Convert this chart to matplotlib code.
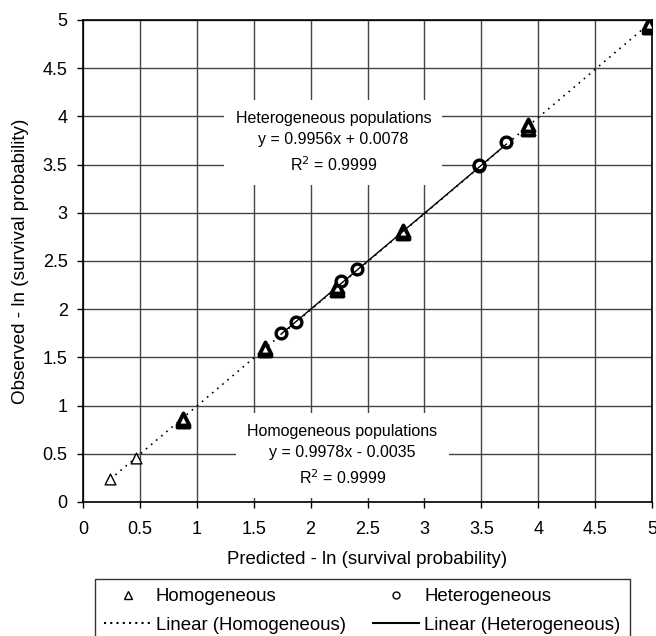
import matplotlib.pyplot as plt
from matplotlib.lines import Line2D
import numpy as np

plt.rcParams['font.family'] = ['Liberation Sans', 'DejaVu Sans']

# homogeneous populations (predicted vs observed)
homo_x = [0.24, 0.47, 0.88, 0.88, 1.60, 1.60, 2.23, 2.23, 2.81, 2.81, 3.91, 3.91, 4.97, 4.97]
homo_y = [0.24, 0.46, 0.84, 0.86, 1.58, 1.60, 2.20, 2.23, 2.79, 2.81, 3.87, 3.91, 4.93, 4.96]
homo_fit = (0.9978, -0.0035)

# heterogeneous populations
het_x = [1.74, 1.87, 2.27, 2.41, 3.48, 3.48, 3.72]
het_y = [1.75, 1.87, 2.29, 2.42, 3.48, 3.50, 3.73]
het_fit = (0.9956, 0.0078)

ticks = [0, 0.5, 1, 1.5, 2, 2.5, 3, 3.5, 4, 4.5, 5]
tick_labels = ['0', '0.5', '1', '1.5', '2', '2.5', '3', '3.5', '4', '4.5', '5']

fig = plt.figure(figsize=(6.56, 6.36), dpi=100)
ax = fig.add_axes([0.1265, 0.2107, 0.8675, 0.758])

ax.set_xlim(0, 5)
ax.set_ylim(0, 5)
ax.set_xticks(ticks)
ax.set_yticks(ticks)
ax.set_xticklabels(tick_labels)
ax.set_yticklabels(tick_labels)
ax.grid(True, color='#444444', linewidth=1.0, zorder=0)
ax.set_axisbelow(True)
for s in ax.spines.values():
    s.set_color('black')
    s.set_linewidth(1.2)
ax.tick_params(direction='out', length=4, width=1, labelsize=13, colors='black')
ax.tick_params(axis='x', pad=10)
ax.tick_params(axis='y', pad=7)

# trend lines
hx = np.array([min(homo_x), max(homo_x)])
ax.plot(hx, homo_fit[0] * hx + homo_fit[1], color='black', linestyle=(0, (1, 3)), linewidth=1.2, zorder=2)
ex = np.array([min(het_x), max(het_x)])
ax.plot(ex, het_fit[0] * ex + het_fit[1], color='black', linestyle='-', linewidth=1.0, zorder=5)

# open triangles for the low points, heavy ones where points overlap
ax.scatter(homo_x[:2], homo_y[:2], marker='^', s=60, facecolors='white', edgecolors='black', linewidths=1.0, zorder=3)
ax.scatter(homo_x[2:], homo_y[2:], marker='^', s=75, facecolors='white', edgecolors='black', linewidths=2.8, zorder=3)
ax.scatter(het_x, het_y, marker='o', s=60, facecolors='white', edgecolors='black', linewidths=2.4, zorder=4)

box = dict(boxstyle='square,pad=0.7', facecolor='white', edgecolor='none')
ax.text(2.2, 3.73, 'Heterogeneous populations\ny = 0.9956x + 0.0078\nR$^2$ = 0.9999',
        ha='center', va='center', fontsize=11.5, linespacing=1.5, bbox=box, zorder=6)
ax.text(2.28, 0.48, 'Homogeneous populations\ny = 0.9978x - 0.0035\nR$^2$ = 0.9999',
        ha='center', va='center', fontsize=11.5, linespacing=1.5, bbox=box, zorder=6)

ax.set_xlabel('Predicted - ln (survival probability)', fontsize=13.4, labelpad=9)
ax.set_ylabel('Observed - ln (survival probability)', fontsize=13.6, labelpad=10)

handles = [
    Line2D([], [], marker='^', linestyle='none', markerfacecolor='white', markeredgecolor='black', markersize=6),
    Line2D([], [], color='black', linestyle=(0, (1, 2))),
    Line2D([], [], marker='o', linestyle='none', markerfacecolor='white', markeredgecolor='black', markersize=5),
    Line2D([], [], color='black', linestyle='-'),
]
labels = ['Homogeneous', 'Linear (Homogeneous)', 'Heterogeneous', 'Linear (Heterogeneous)']
leg = fig.legend(handles, labels, ncol=2, loc='upper left', bbox_to_anchor=(95 / 656, 1 - 579 / 636),
                 fontsize=13.4, frameon=True, fancybox=False, handlelength=2.5, handletextpad=0.27,
                 columnspacing=1.45, borderpad=0.5, labelspacing=0.6, borderaxespad=0)
leg.get_frame().set_edgecolor('black')
leg.get_frame().set_linewidth(1.0)

fig.savefig('out.png', dpi=100)
